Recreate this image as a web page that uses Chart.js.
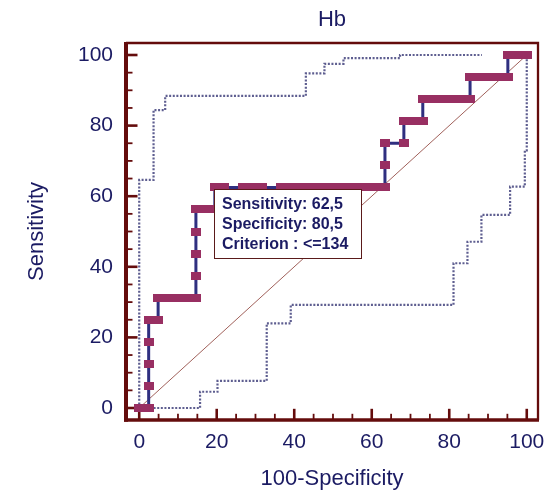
<!DOCTYPE html>
<html>
<head>
<meta charset="utf-8">
<script src="https://cdn.jsdelivr.net/npm/chart.js@4.4.1/dist/chart.umd.min.js"></script>
<style>
html,body{margin:0;padding:0;background:#ffffff;}
#wrap{width:551px;height:492px;}
canvas{display:block;}
</style>
</head>
<body>
<div id="wrap"><canvas id="c" width="551" height="492"></canvas></div>
<script>
// ---------- data ----------
const chartTitle = 'Hb';
const xAxisTitle = '100-Specificity';
const yAxisTitle = 'Sensitivity';
const xTickValues = [0, 20, 40, 60, 80, 100];
const yTickValues = [0, 20, 40, 60, 80, 100];
const minorTickValues = [0, 5, 10, 15, 20, 25, 30, 35, 40, 45, 50, 55, 60, 65, 70, 75, 80, 85, 90, 95, 100];

// ROC curve points (100-Specificity, Sensitivity)
const rocFpr = [0, 2.44, 2.44, 2.44, 2.44, 2.44, 4.88, 4.88, 7.32, 9.76, 12.2, 14.63, 14.63, 14.63, 14.63, 14.63,
  17.07, 19.51, 19.51, 21.95, 26.83, 29.27, 31.71, 36.59, 39.02, 41.46, 43.9, 46.34, 48.78, 51.22, 53.66,
  56.1, 58.54, 60.98, 63.41, 63.41, 63.41, 68.29, 68.29, 70.73, 73.17, 73.17, 75.61, 78.05, 80.49, 82.93,
  85.37, 85.37, 87.8, 90.24, 92.68, 95.12, 95.12, 97.56, 100];
const rocTpr = [0, 0, 6.25, 12.5, 18.75, 25, 25, 31.25, 31.25, 31.25, 31.25, 31.25, 37.5, 43.75, 50, 56.25,
  56.25, 56.25, 62.5, 62.5, 62.5, 62.5, 62.5, 62.5, 62.5, 62.5, 62.5, 62.5, 62.5, 62.5, 62.5,
  62.5, 62.5, 62.5, 62.5, 68.75, 75, 75, 81.25, 81.25, 81.25, 87.5, 87.5, 87.5, 87.5, 87.5,
  87.5, 93.75, 93.75, 93.75, 93.75, 93.75, 100, 100, 100];

// Upper confidence bound
const upperFpr = [0, 0, 3.7, 3.7, 6.7, 6.7, 43, 43, 47.8, 47.8, 52.7, 52.7, 67.3, 67.3, 88.4];
const upperTpr = [0, 64.6, 64.6, 84.4, 84.4, 88.4, 88.4, 94.8, 94.8, 97.5, 97.5, 99.1, 99.1, 100, 100];

// Lower confidence bound
const lowerFpr = [0, 15.7, 15.7, 20.2, 20.2, 32.9, 32.9, 39.1, 39.1, 81.1, 81.1, 84.7, 84.7, 88.3, 88.3, 95.7, 95.7, 99.5, 99.5, 100, 100];
const lowerTpr = [0, 0, 4.6, 4.6, 7.7, 7.7, 24, 24, 29.2, 29.2, 41, 41, 47.1, 47.1, 54.7, 54.7, 62.7, 62.7, 73, 73, 100];

// Reference diagonal
const diagFpr = [0, 100];
const diagTpr = [0, 100];

// Optimal criterion annotation
const criterionFpr = 19.51;
const criterionTpr = 62.5;
const criterionLines = ['Sensitivity: 62,5', 'Specificity: 80,5', 'Criterion : <=134'];

// ---------- styles ----------
const NAVY_TEXT = '#1b1b63';
const FRAME = '#640c0c';
const MARKER = '#982f62';
const LINE = '#2f2f80';
const CI = '#5e5e90';
const DIAG = '#a0605a';
const FONT = "'Liberation Sans', Arial, sans-serif";

const toPts = (xs, ys) => xs.map((v, i) => ({x: v, y: ys[i]}));

const marker = document.createElement('canvas');
marker.width = 10; marker.height = 8;
(function(){ const g = marker.getContext('2d'); g.fillStyle = MARKER; g.fillRect(0, 0, 10, 8); })();

const X_MIN = -3.41, X_MAX = 102.9, Y_MIN = -3.4, Y_MAX = 103.4;

const framePlugin = {
  id: 'frameTicks',
  beforeDatasetsDraw(chart) {
    const {ctx, chartArea: a, scales} = chart;
    const x = scales.x, y = scales.y;
    ctx.save();
    ctx.strokeStyle = FRAME;
    ctx.lineCap = 'butt';
    minorTickValues.forEach(v => {
      const major = xTickValues.includes(v);
      const len = major ? 9.5 : 4.5;
      ctx.lineWidth = major ? 2.6 : 1.8;
      const px = x.getPixelForValue(v);
      ctx.beginPath(); ctx.moveTo(px, a.bottom); ctx.lineTo(px, a.bottom - 1.7 - len); ctx.stroke();
      const py = y.getPixelForValue(v);
      ctx.beginPath(); ctx.moveTo(a.left, py); ctx.lineTo(a.left + 2 + len, py); ctx.stroke();
    });
    ctx.lineWidth = 2.3;
    ctx.beginPath();
    ctx.moveTo(a.left, a.top); ctx.lineTo(a.right, a.top); ctx.lineTo(a.right, a.bottom);
    ctx.stroke();
    ctx.lineWidth = 3.5;
    ctx.beginPath(); ctx.moveTo(a.left - 2, a.bottom); ctx.lineTo(a.right + 1, a.bottom); ctx.stroke();
    ctx.lineWidth = 4;
    ctx.beginPath(); ctx.moveTo(a.left, a.top - 1); ctx.lineTo(a.left, a.bottom + 1.7); ctx.stroke();
    ctx.restore();
  }
};

const boxPlugin = {
  id: 'criterionBox',
  afterDatasetsDraw(chart) {
    const {ctx, scales} = chart;
    const px = scales.x.getPixelForValue(criterionFpr);
    const py = scales.y.getPixelForValue(criterionTpr);
    const bx = Math.round(px) - 1, by = Math.round(py) + 2;
    const w = 148, h = 70;
    ctx.save();
    ctx.fillStyle = '#ffffff';
    ctx.fillRect(bx, by, w, h);
    ctx.strokeStyle = '#5a1a1a';
    ctx.lineWidth = 1;
    ctx.strokeRect(bx + 0.5, by + 0.5, w - 1, h - 1);
    ctx.fillStyle = NAVY_TEXT;
    ctx.font = 'bold 16px ' + FONT;
    ctx.textBaseline = 'middle';
    ctx.textAlign = 'left';
    criterionLines.forEach((t, i) => ctx.fillText(t, bx + 8, by + 16 + i * 20));
    ctx.restore();
  }
};

new Chart(document.getElementById('c'), {
  type: 'scatter',
  data: {
    datasets: [
      {
        label: 'ROC', data: toPts(rocFpr, rocTpr), showLine: true,
        borderColor: LINE, borderWidth: 3, tension: 0,
        pointStyle: marker, pointRadius: 5, pointHoverRadius: 5,
        xAxisID: 'x', yAxisID: 'y'
      },
      {
        label: 'upper', data: toPts(upperFpr, upperTpr), showLine: true,
        borderColor: CI, borderWidth: 2.2, borderDash: [2, 1.6], pointRadius: 0, tension: 0,
        xAxisID: 'x', yAxisID: 'y'
      },
      {
        label: 'lower', data: toPts(lowerFpr, lowerTpr), showLine: true,
        borderColor: CI, borderWidth: 2.2, borderDash: [2, 1.6], pointRadius: 0, tension: 0,
        xAxisID: 'x', yAxisID: 'y'
      },
      {
        label: 'diag', data: toPts(diagFpr, diagTpr), showLine: true,
        borderColor: DIAG, borderWidth: 1, pointRadius: 0, tension: 0,
        xAxisID: 'x', yAxisID: 'y'
      }
    ]
  },
  options: {
    responsive: false,
    animation: false,
    devicePixelRatio: 1,
    layout: {padding: {left: 0, right: 13, top: 0, bottom: 0}},
    plugins: {legend: {display: false}, tooltip: {enabled: false}, title: {display: false}},
    scales: {
      x: {
        type: 'linear', position: 'bottom', min: X_MIN, max: X_MAX,
        afterBuildTicks: s => { s.ticks = xTickValues.map(v => ({value: v})); },
        afterFit: s => { s.height = 72; s.paddingLeft = 0; s.paddingRight = 0; },
        grid: {display: false, drawTicks: false},
        border: {display: false},
        ticks: {color: NAVY_TEXT, font: {family: FONT, size: 21}, padding: 10, maxRotation: 0, autoSkip: false,
                callback: v => String(v)},
        title: {display: true, text: xAxisTitle, color: NAVY_TEXT, font: {family: FONT, size: 22}, padding: {top: 0, bottom: 0}}
      },
      x2: {
        type: 'linear', position: 'top', min: X_MIN, max: X_MAX,
        afterFit: s => { s.height = 43; s.paddingLeft = 0; s.paddingRight = 0; },
        grid: {display: false, drawTicks: false},
        border: {display: false},
        ticks: {display: false},
        title: {display: true, text: chartTitle, color: NAVY_TEXT, font: {family: FONT, size: 22}, padding: {top: 7, bottom: 0}}
      },
      y: {
        type: 'linear', position: 'left', min: Y_MIN, max: Y_MAX,
        afterBuildTicks: s => { s.ticks = yTickValues.map(v => ({value: v})); },
        afterFit: s => { s.width = 126; s.paddingTop = 0; s.paddingBottom = 0; },
        grid: {display: false, drawTicks: false},
        border: {display: false},
        ticks: {color: NAVY_TEXT, font: {family: FONT, size: 21}, padding: 13, autoSkip: false,
                callback: v => String(v)},
        title: {display: true, text: yAxisTitle, color: NAVY_TEXT, font: {family: FONT, size: 22}, padding: {top: 24, bottom: 0}}
      }
    }
  },
  plugins: [framePlugin, boxPlugin]
});
</script>
</body>
</html>
